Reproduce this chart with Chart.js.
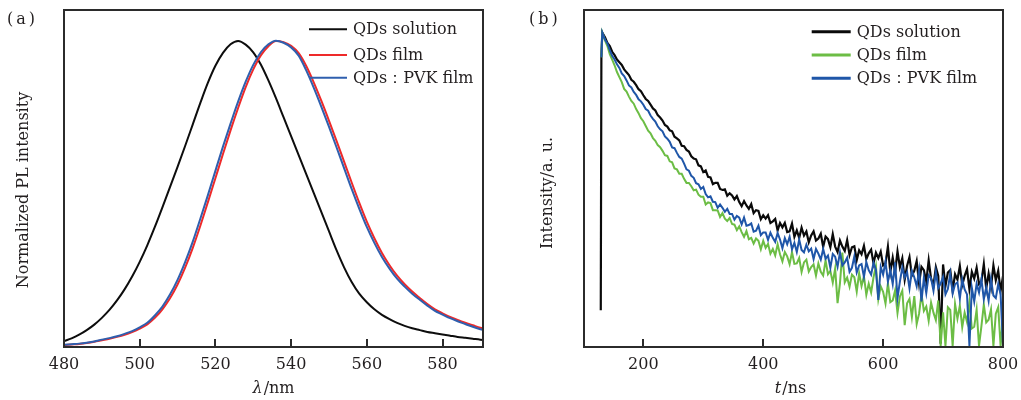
<!DOCTYPE html>
<html><head><meta charset="utf-8">
<script src="https://cdn.jsdelivr.net/npm/chart.js@4.4.1/dist/chart.umd.min.js"></script>
<style>
html,body{margin:0;padding:0;background:#fff;width:1021px;height:400px;overflow:hidden}
.panel{position:absolute;top:0;height:400px}
</style></head><body>
<div class="panel" style="left:0;width:510px"><canvas id="c1" width="510" height="400"></canvas></div>
<div class="panel" style="left:510px;width:511px"><canvas id="c2" width="511" height="400"></canvas></div>
<script>
// ---------- (a) PL spectra ----------
const wavelengthNm = [480,482,484,486,488,490,492,494,496,498,500,502,504,506,508,510,512,514,516,518,520,522,524,526,528,530,532,534,536,538,540,542,544,546,548,550,552,554,556,558,560,562,564,566,568,570,572,574,576,578,580,582,584,586,588,590,592];
const plSolution = [
0.019,0.028,0.040,0.055,0.073,0.095,0.121,0.152,0.188,0.230,
0.278,0.332,0.392,0.456,0.522,0.588,0.656,0.726,0.796,0.862,
0.918,0.960,0.988,0.999,0.987,0.962,0.922,0.870,0.812,0.750,
0.688,0.626,0.564,0.502,0.440,0.378,0.316,0.260,0.212,0.174,
0.146,0.123,0.105,0.091,0.079,0.069,0.061,0.055,0.049,0.045,
0.041,0.037,0.033,0.030,0.027,0.024,0.022];
const plFilm = [
0.006,0.008,0.010,0.013,0.017,0.022,0.027,0.033,0.040,0.049,
0.060,0.074,0.095,0.123,0.159,0.204,0.259,0.323,0.395,0.472,
0.551,0.630,0.707,0.780,0.848,0.906,0.952,0.982,0.999,0.995,
0.983,0.959,0.917,0.863,0.803,0.739,0.673,0.605,0.537,0.471,
0.409,0.355,0.307,0.267,0.233,0.205,0.181,0.160,0.140,0.123,
0.110,0.098,0.088,0.079,0.071,0.063,0.057];
const plPvkFilm = [
0.007,0.009,0.011,0.014,0.018,0.024,0.029,0.035,0.043,0.052,
0.064,0.079,0.103,0.132,0.171,0.219,0.277,0.343,0.418,0.495,
0.575,0.654,0.729,0.801,0.866,0.921,0.962,0.988,1.000,0.993,
0.978,0.951,0.903,0.846,0.784,0.719,0.652,0.584,0.516,0.452,
0.392,0.340,0.294,0.256,0.223,0.197,0.174,0.154,0.135,0.118,
0.106,0.094,0.084,0.075,0.066,0.058,0.052];
const wavelengthTicks = [480,500,520,540,560,580];

// ---------- (b) PL decay ----------
const timeNs = [129,130,131.5,
136,140,144,148,152,156,160,164,168,172,
176,180,184,188,192,196,200,204,208,212,
216,220,224,228,232,236,240,244,248,252,
256,260,264,268,272,276,280,284,288,292,
296,300,304,308,312,316,320,324,328,332,
336,340,344,348,352,356,360,364,368,372,
376,380,384,388,392,396,400,404,408,412,
416,420,424,428,432,436,440,444,448,452,
456,460,464,468,472,476,480,484,488,492,
496,500,504,508,512,516,520,524,528,532,
536,540,544,548,552,556,560,564,568,572,
576,580,584,588,592,596,600,604,608,612,
616,620,624,628,632,636,640,644,648,652,
656,660,664,668,672,676,680,684,688,692,
696,700,704,708,712,716,720,724,728,732,
736,740,744,748,752,756,760,764,768,772,
776,780,784,788,792,796,800];
const decaySolution = [10.9,86.0,93.3,
91.9,90.2,89.3,87.6,86.6,85.3,84.5,83.7,82.4,81.5,
80.7,79.3,78.7,77.7,76.5,75.9,74.7,73.6,73.0,71.9,
70.8,70.2,68.8,68.1,67.2,65.9,65.4,64.3,64.0,62.4,
61.9,61.3,59.7,59.6,58.5,58.0,56.6,55.9,55.7,53.9,
53.6,51.9,52.4,50.5,50.3,48.3,48.7,48.7,46.9,46.6,
46.8,44.9,45.6,45.0,43.8,44.8,43.0,41.8,43.3,42.0,
41.0,42.4,39.7,40.6,40.4,37.9,39.1,38.1,39.1,36.8,
37.3,38.0,34.6,36.8,35.5,36.8,34.1,34.3,36.6,32.7,
34.6,32.4,35.4,33.1,34.3,31.1,33.1,34.3,31.6,32.2,
33.6,29.7,32.8,32.0,29.6,33.5,29.8,28.2,31.6,29.8,
28.5,31.7,27.3,29.6,29.9,25.8,28.7,27.5,30.0,26.1,
27.8,28.9,24.8,28.0,26.4,28.3,24.2,24.8,29.8,22.3,
26.5,22.2,28.4,23.7,26.3,20.0,24.1,26.7,21.2,22.6,
25.5,18.9,23.8,22.8,19.4,25.7,20.3,18.2,23.7,21.1,
1.0,24.5,18.1,22.1,22.8,16.8,21.6,20.0,24.0,18.4,
21.1,23.1,17.1,22.3,20.3,23.5,18.7,19.5,24.6,17.4,
21.8,17.8,24.2,19.8,22.6,16.6,21.0];
const decayFilm = [null,86.0,93.3,
91.0,89.3,86.9,85.3,83.6,81.6,80.1,78.6,76.6,75.8,
74.3,73.0,72.2,70.6,69.4,67.9,67.0,65.6,64.2,63.4,
62.0,61.2,59.9,59.3,58.2,56.9,56.7,55.1,54.8,53.0,
52.7,51.4,51.4,49.9,48.7,48.7,47.7,46.5,46.7,45.2,
44.6,44.6,42.3,42.9,42.7,40.6,40.6,40.5,38.6,39.7,
38.1,37.4,38.3,36.5,36.3,34.7,35.8,34.1,32.7,34.4,
32.0,32.4,30.7,32.2,31.5,29.0,31.5,29.4,30.6,27.7,
29.1,27.2,30.5,27.5,25.4,28.2,26.9,24.6,28.1,24.7,
24.8,26.4,22.3,25.1,25.9,22.4,23.7,24.5,21.2,24.8,
22.3,21.2,25.7,21.6,22.6,19.1,23.3,13.0,18.9,28.0,
19.2,20.6,17.9,21.5,20.7,16.4,21.9,18.1,21.0,15.5,
18.8,16.2,20.7,24.0,14.2,18.0,16.4,12.9,18.9,13.3,
13.8,16.8,10.1,15.0,16.7,6.5,13.0,14.3,8.9,15.1,
6.8,9.9,15.7,10.7,12.0,7.8,13.2,10.2,8.0,13.8,
0.3,10.3,0.3,11.8,11.0,0.3,12.8,8.4,12.3,5.9,
10.2,7.4,13.3,5.5,6.0,11.1,0.3,6.2,12.6,7.3,
8.1,11.2,0.3,9.9,11.8,0.3,8.5];
const decayPvkFilm = [null,86.0,93.3,
91.2,90.1,88.1,86.4,85.3,83.9,82.8,81.2,80.4,79.1,
77.6,77.0,75.7,74.8,73.5,72.9,71.9,70.6,70.1,68.7,
67.7,66.9,65.5,64.6,64.0,62.5,61.8,60.9,59.2,59.0,
57.6,56.4,55.9,54.4,52.7,52.3,50.8,50.2,48.6,48.3,
46.9,47.5,45.4,44.4,44.7,43.1,43.0,41.3,42.3,41.3,
40.1,41.0,39.5,39.5,37.8,38.9,38.4,36.4,38.4,36.0,
36.2,36.7,34.2,34.5,36.0,33.2,34.0,34.0,31.8,33.9,
32.4,31.2,33.8,31.9,29.3,32.3,30.5,32.7,29.0,30.9,
28.2,31.9,28.8,28.1,30.4,28.4,29.2,26.1,29.1,27.7,
25.9,29.1,26.2,27.1,23.5,27.6,26.8,23.8,28.1,24.2,
25.1,26.5,22.3,23.5,26.9,22.1,24.2,24.6,20.8,25.2,
22.8,21.5,25.0,22.9,14.0,23.8,21.5,25.3,19.4,22.8,
18.7,25.1,14.5,19.4,23.6,20.6,22.2,17.4,22.6,20.7,
18.0,22.9,13.5,20.5,16.0,21.3,20.4,16.7,22.3,17.5,
18.8,20.8,15.6,17.2,21.8,15.9,18.6,19.2,14.4,20.1,
17.1,15.6,0.3,17.6,13.5,18.8,16.2,20.1,14.2,17.7,
13.7,20.1,15.3,14.5,18.7,15.7,0.3];
const timeTicks = [200,400,600,800];

const seriesNames = ['QDs solution','QDs film','QDs\uFF1APVK film'];

// ---------- helpers ----------
const INK = '#231f20';
const FAMILY = '"DejaVu Serif", "Liberation Serif", serif';
const FONT_PX = 16;
const pts = (xs, ys) => xs.map((x, i) => ({x, y: ys[i]}));

const decor = {
  id: 'decor',
  afterDraw(chart, args, o) {
    const {ctx, chartArea: a} = chart;
    const xs = chart.scales.x;
    ctx.save();
    ctx.strokeStyle = '#2b2b2b';
    ctx.lineWidth = 2;
    ctx.strokeRect(a.left, a.top, a.right - a.left, a.bottom - a.top);
    ctx.beginPath();
    xs.ticks.forEach(t => {
      const p = Math.round(xs.getPixelForValue(t.value));
      ctx.moveTo(p, a.bottom);
      ctx.lineTo(p, a.bottom - 8);
    });
    ctx.stroke();
    ctx.font = FONT_PX + 'px ' + FAMILY;
    ctx.fillStyle = INK;
    ctx.textBaseline = 'middle';
    ctx.textAlign = 'left';
    chart.data.datasets.forEach((d, i) => {
      const y = o.legendY[i];
      ctx.strokeStyle = d.borderColor;
      ctx.lineWidth = o.legendLineWidth;
      ctx.beginPath();
      ctx.moveTo(o.legendX, y);
      ctx.lineTo(o.legendX + o.legendLen, y);
      ctx.stroke();
      ctx.fillText(d.label, o.legendX + o.legendLen + o.legendGap, y + 1);
    });
    ctx.letterSpacing = '3px';
    ctx.fillText(o.panel, o.panelX, o.panelY);
    ctx.letterSpacing = '0px';
    const fi = 'italic ' + FONT_PX + 'px ' + FAMILY;
    const fr = FONT_PX + 'px ' + FAMILY;
    ctx.font = fi; const w1 = ctx.measureText(o.xTitle[0]).width;
    ctx.font = fr; const w2 = ctx.measureText(o.xTitle[1]).width;
    const sx = o.xTitleCx - (w1 + w2) / 2;
    ctx.font = fi; ctx.fillText(o.xTitle[0], sx, o.xTitleY);
    ctx.font = fr; ctx.fillText(o.xTitle[1], sx + w1 + 1, o.xTitleY);
    ctx.translate(o.yTitleX, o.yTitleY);
    ctx.rotate(-Math.PI / 2);
    ctx.textAlign = 'center';
    ctx.fillText(o.yTitle, 0, 0);
    ctx.restore();
  }
};

function makeOptions(xMin, xMax, tickList, yMax, yWidth, xPadRight, decorOpts) {
  return {
    responsive: false,
    animation: false,
    events: [],
    layout: {padding: {left: 0, right: xPadRight, top: 10, bottom: 0}},
    elements: {point: {radius: 0}},
    plugins: {legend: {display: false}, tooltip: {enabled: false}, decor: decorOpts},
    scales: {
      x: {
        type: 'linear', min: xMin, max: xMax,
        afterBuildTicks: s => { s.ticks = tickList.map(v => ({value: v})); },
        grid: {display: false, drawTicks: false},
        border: {display: false},
        ticks: {padding: 8, autoSkip: false, maxRotation: 0, color: INK,
                font: {family: FAMILY, size: FONT_PX}},
        afterFit: s => { s.height = 53; s.paddingLeft = 0; s.paddingRight = 0; }
      },
      y: {
        type: 'linear', min: 0, max: yMax,
        ticks: {display: false},
        grid: {display: false, drawTicks: false},
        border: {display: false},
        afterFit: s => { s.width = yWidth; s.paddingTop = 0; s.paddingBottom = 0; }
      }
    }
  };
}

new Chart(document.getElementById('c1'), {
  type: 'line',
  data: {datasets: [
    {label: seriesNames[0], data: pts(wavelengthNm, plSolution), borderColor: '#0d0d0d', borderWidth: 2, cubicInterpolationMode: 'monotone', order: 2},
    {label: seriesNames[1], data: pts(wavelengthNm, plFilm), borderColor: '#ee2a2a', borderWidth: 2, cubicInterpolationMode: 'monotone', order: 1},
    {label: seriesNames[2], data: pts(wavelengthNm, plPvkFilm), borderColor: '#2f5fae', borderWidth: 2, cubicInterpolationMode: 'monotone', order: 0}
  ]},
  options: makeOptions(480, 590.7, wavelengthTicks, 1.1, 64, 27, {
    legendX: 309, legendLen: 38, legendGap: 6, legendY: [29.3, 55, 77.7], legendLineWidth: 2,
    panel: '(a)', panelX: 7, panelY: 19.5,
    xTitle: ['\u03BB', '/nm'], xTitleCx: 273, xTitleY: 389,
    yTitle: 'Normalized PL intensity', yTitleX: 24, yTitleY: 190
  }),
  plugins: [decor]
});

new Chart(document.getElementById('c2'), {
  type: 'line',
  data: {datasets: [
    {label: seriesNames[0], data: pts(timeNs, decaySolution), borderColor: '#0a0a0a', borderWidth: 2.2, tension: 0, order: 2},
    {label: seriesNames[1], data: pts(timeNs, decayFilm), borderColor: '#6cbd45', borderWidth: 2, tension: 0, order: 1},
    {label: seriesNames[2], data: pts(timeNs, decayPvkFilm), borderColor: '#1f56a8', borderWidth: 2, tension: 0, order: 0}
  ]},
  options: makeOptions(101, 800, timeTicks, 100, 74, 18, {
    legendX: 301.7, legendLen: 39, legendGap: 6, legendY: [31.7, 55, 78.3], legendLineWidth: 3,
    panel: '(b)', panelX: 19, panelY: 19.5,
    xTitle: ['t', '/ns'], xTitleCx: 280, xTitleY: 389,
    yTitle: 'Intensity/a. u.', yTitleX: 38, yTitleY: 193
  }),
  plugins: [decor]
});
</script>
</body></html>
